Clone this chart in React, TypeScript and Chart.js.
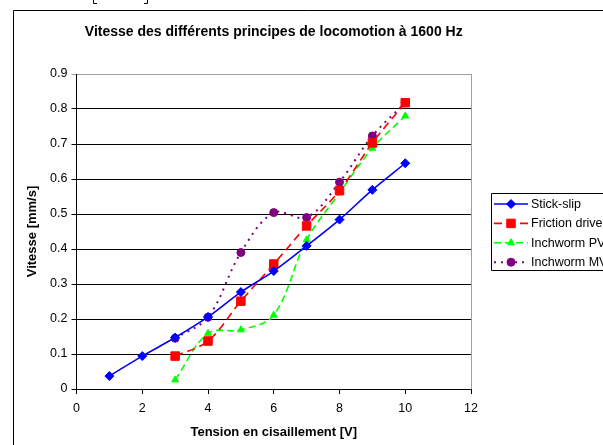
import React, { useEffect, useRef } from "react";
import { Chart, registerables } from "chart.js";
import { drawPoint } from "chart.js/helpers";

Chart.register(...registerables);

const titleText = "Vitesse des différents principes de locomotion à 1600 Hz";
const xAxisTitle = "Tension en cisaillement [V]";
const yAxisTitle = "Vitesse [mm/s]";

const stickSlipX = [1, 2, 3, 4, 5, 6, 7, 8, 9, 10];
const stickSlipY = [0.037, 0.094, 0.147, 0.206, 0.277, 0.337, 0.409, 0.484, 0.569, 0.645];

const frictionX = [3, 4, 5, 6, 7, 8, 9, 10];
const frictionY = [0.094, 0.137, 0.251, 0.357, 0.466, 0.567, 0.703, 0.818];

const pvX = [3, 4, 5, 6, 7, 8, 9, 10];
const pvY = [0.026, 0.159, 0.169, 0.211, 0.426, 0.56, 0.688, 0.78];

const mvX = [3, 4, 5, 6, 7, 8, 9, 10];
const mvY = [0.145, 0.205, 0.39, 0.504, 0.49, 0.591, 0.723, 0.818];

const seriesNames = ["Stick-slip", "Friction drive", "Inchworm PV", "Inchworm MV"];

const FONT = "'Liberation Sans', Arial, sans-serif";

const toPts = (xs: number[], ys: number[]) => xs.map((x, i) => ({ x, y: ys[i] }));

const framePlugin = {
  id: "frame",
  beforeDraw(chart: any) {
    const ctx = chart.ctx;
    ctx.save();
    ctx.fillStyle = "#ffffff";
    ctx.fillRect(0, 0, chart.width, chart.height);
    ctx.strokeStyle = "#000000";
    ctx.lineWidth = 1;
    ctx.beginPath();
    ctx.moveTo(13.5, chart.height + 2);
    ctx.lineTo(13.5, 10.5);
    ctx.lineTo(chart.width + 2, 10.5);
    ctx.stroke();
    // bracket fragments from text above
    ctx.beginPath();
    ctx.moveTo(93.5, 0);
    ctx.lineTo(93.5, 3.5);
    ctx.lineTo(97, 3.5);
    ctx.moveTo(147.5, 0);
    ctx.lineTo(147.5, 3.5);
    ctx.lineTo(144, 3.5);
    ctx.stroke();
    ctx.restore();
  },
  afterDraw(chart: any) {
    const ctx = chart.ctx;
    const a = chart.chartArea;
    ctx.save();
    ctx.strokeStyle = "#a0a0a0";
    ctx.lineWidth = 1;
    ctx.beginPath();
    ctx.moveTo(Math.round(a.right) + 0.5, a.top);
    ctx.lineTo(Math.round(a.right) + 0.5, a.bottom);
    ctx.stroke();

    // legend
    const bx = 491.5, by = 193.5, bh = 77;
    ctx.strokeStyle = "#000000";
    ctx.beginPath();
    ctx.moveTo(chart.width + 2, by);
    ctx.lineTo(bx, by);
    ctx.lineTo(bx, by + bh);
    ctx.lineTo(chart.width + 2, by + bh);
    ctx.stroke();
    ctx.font = `12.5px ${FONT}`;
    ctx.textBaseline = "middle";
    ctx.fillStyle = "#000";
    chart.data.datasets.forEach((ds: any, i: number) => {
      const y = 204 + i * 19.4;
      ctx.save();
      ctx.strokeStyle = ds.borderColor;
      ctx.lineWidth = ds.borderWidth;
      ctx.setLineDash(ds.borderDash || []);
      ctx.beginPath();
      ctx.moveTo(494, y);
      ctx.lineTo(528, y);
      ctx.stroke();
      ctx.setLineDash([]);
      ctx.fillStyle = ds.pointBackgroundColor;
      ctx.strokeStyle = ds.pointBorderColor;
      ctx.lineWidth = 1;
      drawPoint(ctx, { pointStyle: ds.pointStyle, radius: ds.pointRadius, borderWidth: 1, rotation: 0 }, 511, y);
      ctx.restore();
      ctx.fillText(ds.label, 531, y + 0.5);
    });
    ctx.restore();
  },
};

export default function App() {
  const ref = useRef<HTMLCanvasElement | null>(null);
  useEffect(() => {
    if (!ref.current) return;
    const common = { tension: 0.35, fill: false, pointBorderWidth: 1 };
    const chart = new Chart(ref.current, {
      type: "line",
      data: {
        datasets: [
          {
            ...common,
            label: seriesNames[0],
            data: toPts(stickSlipX, stickSlipY),
            borderColor: "#0000ff",
            backgroundColor: "#0000ff",
            pointBackgroundColor: "#0000ff",
            pointBorderColor: "#0000ff",
            borderWidth: 1.6,
            pointStyle: "rectRot",
            pointRadius: 4.5,
            borderDash: [],
          },
          {
            ...common,
            label: seriesNames[1],
            data: toPts(frictionX, frictionY),
            borderColor: "#ff0000",
            backgroundColor: "#ff0000",
            pointBackgroundColor: "#ff0000",
            pointBorderColor: "#ff0000",
            borderWidth: 1.6,
            pointStyle: "rect",
            pointRadius: 6,
            borderDash: [8, 5],
          },
          {
            ...common,
            label: seriesNames[2],
            data: toPts(pvX, pvY),
            borderColor: "#00ff00",
            backgroundColor: "#00ff00",
            pointBackgroundColor: "#00ff00",
            pointBorderColor: "#00ff00",
            borderWidth: 1.6,
            pointStyle: "triangle",
            pointRadius: 4,
            borderDash: [7, 4],
          },
          {
            ...common,
            label: seriesNames[3],
            data: toPts(mvX, mvY),
            borderColor: "#800080",
            backgroundColor: "#800080",
            pointBackgroundColor: "#800080",
            pointBorderColor: "#800080",
            borderWidth: 2,
            pointStyle: "circle",
            pointRadius: 4,
            borderDash: [2, 5],
          },
        ],
      },
      options: {
        responsive: false,
        animation: false,
        layout: { padding: { left: 20, right: 132, top: 0, bottom: 5 } },
        plugins: {
          legend: { display: false },
          tooltip: { enabled: false },
          title: {
            display: true,
            text: titleText,
            fullSize: false,
            color: "#000",
            font: { family: FONT, size: 14, weight: "bold", lineHeight: 1.2 },
            padding: { top: 23.6, bottom: 33.6 },
          },
        },
        scales: {
          x: {
            type: "linear",
            min: 0,
            max: 12,
            ticks: { stepSize: 2, color: "#000", font: { family: FONT, size: 12.5 }, padding: 7 },
            grid: { drawOnChartArea: false, color: "#000", tickLength: 5 },
            border: { color: "#000" },
            title: {
              display: true,
              text: xAxisTitle,
              color: "#000",
              font: { family: FONT, size: 13, weight: "bold", lineHeight: 1.2 },
              padding: { top: 0, bottom: 0.2 },
            },
            afterFit(scale: any) {
              scale.height = 51;
            },
          },
          y: {
            min: 0,
            max: 0.9,
            ticks: {
              stepSize: 0.1,
              color: "#000",
              font: { family: FONT, size: 12.5 },
              padding: 4,
              callback: (v: any) => (Number(v) === 0 ? "0" : Number(v).toFixed(1)),
            },
            grid: {
              color: (c: any) => (Math.abs(c.tick?.value - 0.9) < 1e-6 ? "#a0a0a0" : "#000"),
              tickLength: 5,
            },
            border: { color: "#000" },
            title: {
              display: true,
              text: yAxisTitle,
              color: "#000",
              font: { family: FONT, size: 13, weight: "bold", lineHeight: 1.2 },
              padding: { top: 4.2, bottom: 0 },
            },
            afterFit(scale: any) {
              scale.width = 56.5;
            },
          },
        },
      },
      plugins: [framePlugin],
    } as any);
    return () => chart.destroy();
  }, []);
  return (
    <canvas
      ref={ref}
      width={603}
      height={445}
      style={{ position: "fixed", left: 0, top: 0, display: "block" }}
    />
  );
}
